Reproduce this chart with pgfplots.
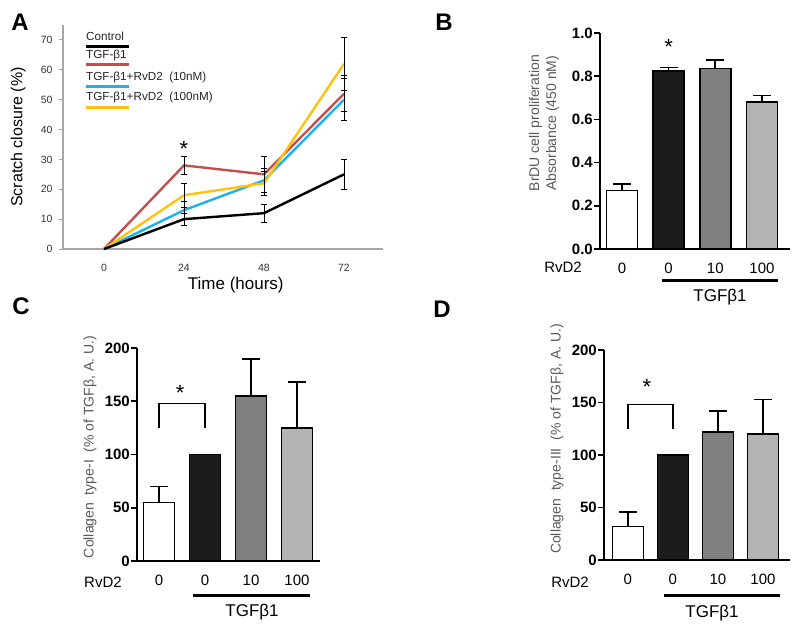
\documentclass[border=0pt]{standalone}
\usepackage{fontspec}
\setmainfont{Liberation Sans}
\usepackage{pgfplots}
\pgfplotsset{compat=1.18}
\definecolor{cred}{HTML}{C0504D}
\definecolor{cblue}{HTML}{1FB0EC}
\definecolor{cyel}{HTML}{FFC20E}
\definecolor{axgray}{HTML}{A6A6A6}
\definecolor{bdark}{HTML}{1C1C1C}
\definecolor{bmid}{HTML}{808080}
\definecolor{blight}{HTML}{B3B3B3}
\tikzset{starnode/.style={font=\fontsize{22}{22}\selectfont}}
\pgfplotsset{
  barpanel/.style={
    scale only axis, anchor=south west, clip=false,
    axis lines*=left,
    axis line style={black, line width=1.7pt},
    ybar, bar shift=0pt, bar width=31pt,
    xtick={0,1,2,3}, xticklabels={0,0,10,100},
    xtick style={draw=none},
    ytick style={black, line width=1.7pt},
    tick align=outside, major tick length=6pt,
    /pgf/number format/assume math mode=true,
    xticklabel style={font=\fontsize{15}{16}\selectfont, yshift=-4pt},
    yticklabel style={font=\bfseries\fontsize{15}{16}\selectfont, inner sep=1pt},
    ylabel style={font=\fontsize{14}{17}\selectfont, text=black!65, anchor=center, align=center},
  },
  barplot/.style={draw=black, line width=1.5pt,
    error bars/y dir=plus, error bars/y explicit,
    error bars/error bar style={black, line width=1.7pt},
    error bars/error mark options={black, line width=1.7pt, mark size=9pt, rotate=90}},
  lineplot/.style={line width=2.4pt, mark=none,
    error bars/y dir=both, error bars/y explicit,
    error bars/error bar style={black, line width=0.9pt},
    error bars/error mark options={black, line width=0.9pt, mark size=3pt, rotate=90}},
}
\begin{document}
\begin{tikzpicture}
\path[use as bounding box] (0pt,0pt) rectangle (800pt,-634pt);

% ---------------- Panel A ----------------
\begin{axis}[
  at={(63pt,-249pt)}, anchor=south west, scale only axis,
  width=320pt, height=224pt,
  xmin=-12.3, xmax=83.7, ymin=0, ymax=75,
  axis lines*=left, axis line style={axgray, line width=1.2pt},
  xtick={0,24,48,72}, ytick={0,10,...,70},
  xtick style={draw=none}, ytick style={axgray, line width=1pt},
  tick align=outside, major tick length=4pt,
  clip=false,
  /pgf/number format/assume math mode=true,
  tick label style={font=\fontsize{10.5}{11}\selectfont, text=black!80},
  xticklabel style={yshift=-8pt},
  yticklabel style={xshift=-3pt},
  xlabel={Time (hours)}, ylabel={Scratch closure (\%)},
  xlabel style={font=\fontsize{17}{18}\selectfont, at={(axis description cs:0.54,-0.16)}, anchor=center},
  ylabel style={font=\fontsize{16}{18}\selectfont, at={(axis description cs:-0.14,0.5)}, anchor=center},
]
\addplot[cblue, lineplot] coordinates {(0,0) (24,13) +- (0,3) (48,23) +- (0,4) (72,50) +- (0,7)};
\addplot[cred, lineplot] coordinates {(0,0) (24,28) +- (0,3) (48,25) +- (0,6) (72,52) +- (0,6)};
\addplot[cyel, lineplot] coordinates {(0,0) (24,18) +- (0,4) (48,22) +- (0,4) (72,62) +- (0,9)};
\addplot[black, lineplot] coordinates {(0,0) (24,10) +- (0,2) (48,12) +- (0,3) (72,25) +- (0,5)};
\node[starnode] at (axis cs:24,33.5) {*};
\end{axis}
% legend A
\begin{scope}[every node/.style={anchor=west, inner sep=0pt, font=\fontsize{11.7}{12}\selectfont, text=black!85}]
\node at (86pt,-36pt) {Control};
\draw[black, line width=3pt] (86pt,-46.5pt) -- (129pt,-46.5pt);
\node at (86pt,-55pt) {TGF-β1};
\draw[cred, line width=3pt] (86pt,-65pt) -- (129pt,-65pt);
\node at (86pt,-77pt) {TGF-β1+RvD2\ \ (10nM)};
\draw[cblue, line width=3pt] (86pt,-86pt) -- (129pt,-86pt);
\node at (86pt,-97pt) {TGF-β1+RvD2\ \ (100nM)};
\draw[cyel, line width=3pt] (86pt,-107pt) -- (129pt,-107pt);
\end{scope}

% ---------------- Panel B ----------------
\begin{axis}[barpanel,
  at={(600pt,-249pt)}, width=190pt, height=216pt,
  xmin=-0.47, xmax=3.6, ymin=0, ymax=1,
  ytick={0,0.2,...,1.0},
  yticklabel style={/pgf/number format/.cd, fixed, fixed zerofill, precision=1},
  ylabel={BrDU cell proliferation\\Absorbance (450 nM)},
  ylabel style={at={(axis description cs:-0.295,0.583)}},
]
\addplot[fill=white, barplot] coordinates {(0,0.27) +- (0,0.03)};
\addplot[fill=bdark, barplot] coordinates {(1,0.825) +- (0,0.015)};
\addplot[fill=bmid, barplot] coordinates {(2,0.835) +- (0,0.04)};
\addplot[fill=blight, barplot] coordinates {(3,0.68) +- (0,0.03)};
\node[starnode] at (axis cs:1,0.9375) {*};
\end{axis}

% ---------------- Panel C ----------------
\begin{axis}[barpanel,
  at={(137pt,-561pt)}, width=183pt, height=213pt,
  xmin=-0.48, xmax=3.5, ymin=0, ymax=200,
  ytick={0,50,...,200},
  ylabel={Collagen\ \ type-I\ \ (\% of TGFβ, A. U.)},
  ylabel style={at={(axis description cs:-0.257,0.535)}},
]
\addplot[fill=white, barplot] coordinates {(0,55) +- (0,15)};
\addplot[fill=bdark, draw=black, line width=1.5pt] coordinates {(1,100)};
\addplot[fill=bmid, barplot] coordinates {(2,155) +- (0,35)};
\addplot[fill=blight, barplot] coordinates {(3,125) +- (0,43)};
\draw[line width=1.7pt] (axis cs:0,125) -- (axis cs:0,148) -- (axis cs:1,148) -- (axis cs:1,125);
\node[starnode] at (axis cs:0.46,157.4) {*};
\end{axis}

% ---------------- Panel D ----------------
\begin{axis}[barpanel,
  at={(604pt,-560pt)}, width=186pt, height=210pt,
  xmin=-0.53, xmax=3.6, ymin=0, ymax=200,
  ytick={0,50,...,200},
  ylabel={Collagen\ \ type-III\ \ (\% of TGFβ, A. U.)},
  ylabel style={at={(axis description cs:-0.253,0.576)}},
]
\addplot[fill=white, barplot] coordinates {(0,32) +- (0,14)};
\addplot[fill=bdark, draw=black, line width=1.5pt] coordinates {(1,100)};
\addplot[fill=bmid, barplot] coordinates {(2,122) +- (0,20)};
\addplot[fill=blight, barplot] coordinates {(3,120) +- (0,33)};
\draw[line width=1.7pt] (axis cs:0,125) -- (axis cs:0,148) -- (axis cs:1,148) -- (axis cs:1,125);
\node[starnode] at (axis cs:0.42,165.3) {*};
\end{axis}

% ---------------- annotations ----------------
\begin{scope}[every node/.style={font=\fontsize{15}{16}\selectfont}]
\node at (563pt,-267pt) {RvD2};
\node at (103pt,-582pt) {RvD2};
\node at (570pt,-582pt) {RvD2};
\end{scope}
\draw[line width=3pt] (662pt,-280pt) -- (778pt,-280pt);
\draw[line width=3pt] (193pt,-595pt) -- (310pt,-595pt);
\draw[line width=3pt] (664pt,-595pt) -- (780pt,-595pt);
\begin{scope}[every node/.style={font=\fontsize{17}{18}\selectfont}]
\node at (720pt,-297pt) {TGFβ1};
\node at (252pt,-612pt) {TGFβ1};
\node at (712pt,-613pt) {TGFβ1};
\end{scope}
\begin{scope}[every node/.style={font=\bfseries\fontsize{24}{24}\selectfont}]
\node at (20pt,-22pt) {A};
\node at (444pt,-22pt) {B};
\node at (21pt,-306pt) {C};
\node at (442pt,-309pt) {D};
\end{scope}
\end{tikzpicture}
\end{document}
